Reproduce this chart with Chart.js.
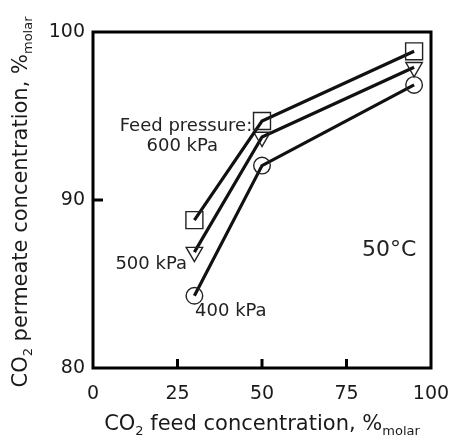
<!DOCTYPE html>
<html>
<head>
<meta charset="utf-8">
<script src="https://cdn.jsdelivr.net/npm/chart.js@4/dist/chart.umd.min.js"></script>
<style>
  body { margin: 0; background: #fff; }
</style>
</head>
<body>
<canvas id="co2Chart" width="451" height="438"></canvas>
<script>
// CO2 feed vs permeate concentration at three feed pressures
const feedCO2 = [30, 50, 95]
const permeate600 = [88.8, 94.7, 98.85]
const permeate500 = [86.9, 93.75, 97.9]
const permeate400 = [84.3, 92.05, 96.85]
const xTicks = [0, 25, 50, 75, 100]
const yTicks = [80, 90, 100]

const FONT = '"DejaVu Sans"'
const INK = '#1a1a1a'

function toPoints(ys) {
    return feedCO2.map((x, i) => ({ x: x, y: ys[i] }))
}

function series(label, ys, style, radius, rotation) {
    return {
        label: label,
        data: toPoints(ys),
        borderColor: '#111',
        borderWidth: 3.2,
        pointStyle: style,
        pointRadius: radius,
        pointRotation: rotation,
        pointBorderWidth: 1.4,
        pointBorderColor: '#222',
        pointBackgroundColor: 'rgba(0,0,0,0)',
        tension: 0
    }
}

// writes a line of text where some runs are subscripts
function richText(ctx, parts, x, y, size) {
    let total = 0
    parts.forEach(p => {
        ctx.font = (p.sub ? size * 0.62 : size) + 'px ' + FONT
        p.w = ctx.measureText(p.t).width
        total += p.w
    })
    let cx = x - total / 2
    parts.forEach(p => {
        ctx.font = (p.sub ? size * 0.62 : size) + 'px ' + FONT
        ctx.fillText(p.t, cx, p.sub ? y + size * 0.3 : y)
        cx += p.w
    })
}

const framePlugin = {
    id: 'frame',
    afterDraw(chart) {
        const ctx = chart.ctx
        const a = chart.chartArea
        const xs = chart.scales.x
        const ys = chart.scales.y
        ctx.save()
        ctx.strokeStyle = '#000'
        ctx.lineWidth = 3
        ctx.strokeRect(a.left, a.top, a.right - a.left, a.bottom - a.top)

        // inward ticks
        ctx.lineWidth = 3
        xTicks.slice(1, -1).forEach(v => {
            const px = xs.getPixelForValue(v)
            ctx.beginPath()
            ctx.moveTo(px, a.bottom)
            ctx.lineTo(px, a.bottom - 9)
            ctx.stroke()
        })
        yTicks.slice(1, -1).forEach(v => {
            const py = ys.getPixelForValue(v)
            ctx.beginPath()
            ctx.moveTo(a.left, py)
            ctx.lineTo(a.left + 10, py)
            ctx.stroke()
        })

        // annotations
        ctx.fillStyle = '#222'
        ctx.textBaseline = 'middle'
        ctx.font = '18px ' + FONT
        ctx.textAlign = 'right'
        ctx.fillText('Feed pressure:', xs.getPixelForValue(47.1), ys.getPixelForValue(94.4))
        ctx.fillText('600 kPa', xs.getPixelForValue(37.0), ys.getPixelForValue(93.2))
        ctx.fillText('500 kPa', xs.getPixelForValue(27.8), ys.getPixelForValue(86.2))
        ctx.textAlign = 'left'
        ctx.fillText('400 kPa', xs.getPixelForValue(30.2), ys.getPixelForValue(83.35))
        ctx.font = '22px ' + FONT
        ctx.fillText('50°C', xs.getPixelForValue(79.6), ys.getPixelForValue(87.0))

        // axis titles
        ctx.fillStyle = INK
        ctx.textAlign = 'left'
        richText(ctx, [
            { t: 'CO' }, { t: '2', sub: true },
            { t: ' feed concentration, %' }, { t: 'molar', sub: true }
        ], (a.left + a.right) / 2, 425, 21)

        ctx.translate(22, 202)
        ctx.rotate(-Math.PI / 2)
        richText(ctx, [
            { t: 'CO' }, { t: '2', sub: true },
            { t: ' permeate concentration, %' }, { t: 'molar', sub: true }
        ], 0, 0, 21)
        ctx.restore()
    }
}

new Chart(document.querySelector('#co2Chart'), {
    type: 'line',
    data: {
        datasets: [
            series('600 kPa', permeate600, 'rect', 12, 0),
            series('500 kPa', permeate500, 'triangle', 9.5, 180),
            series('400 kPa', permeate400, 'circle', 8.3, 0)
        ]
    },
    options: {
        responsive: false,
        animation: false,
        layout: { padding: { top: 32, right: 20, left: 0, bottom: 0 } },
        plugins: { legend: { display: false }, tooltip: { enabled: false } },
        scales: {
            x: {
                type: 'linear',
                min: 0,
                max: 100,
                afterBuildTicks: s => { s.ticks = xTicks.map(v => ({ value: v })) },
                afterFit: s => {
                    s.height = 70
                    s.paddingLeft = 0
                    s.paddingRight = 0
                },
                grid: { display: false },
                border: { display: false },
                ticks: { padding: 7, maxRotation: 0, color: INK, font: { family: FONT, size: 19 } }
            },
            y: {
                min: 80,
                max: 100,
                afterBuildTicks: s => { s.ticks = yTicks.map(v => ({ value: v })) },
                afterFit: s => {
                    s.width = 93
                    s.paddingTop = 0
                    s.paddingBottom = 0
                },
                grid: { display: false },
                border: { display: false },
                ticks: { padding: 0, color: INK, font: { family: FONT, size: 19 } }
            }
        }
    },
    plugins: [framePlugin]
})
</script>
</body>
</html>
